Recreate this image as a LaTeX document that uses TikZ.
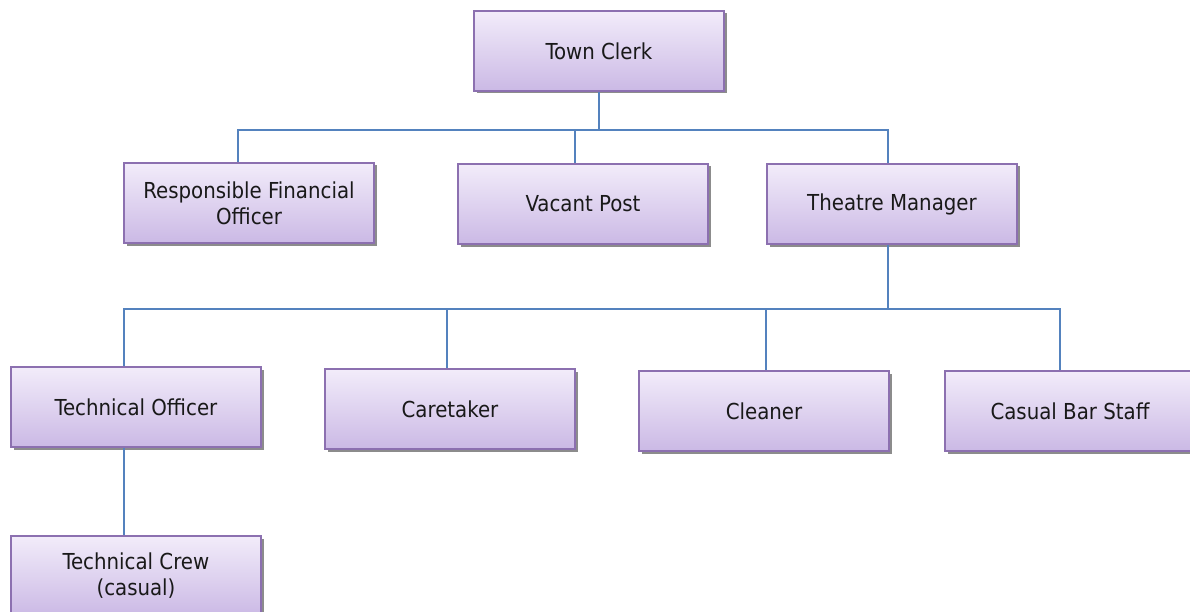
\documentclass[tikz,border=0pt]{standalone}
\usepackage{fontspec}
\setmainfont{DejaVu Sans Condensed}
\usetikzlibrary{shadows}
\definecolor{boxtop}{RGB}{242,236,250}
\definecolor{boxbot}{RGB}{203,185,229}
\definecolor{boxline}{RGB}{140,112,176}
\definecolor{wire}{RGB}{84,130,190}
\begin{document}
\begin{tikzpicture}[x=1pt,y=1pt,
    post/.style={draw=boxline, line width=1.6pt, top color=boxtop, bottom color=boxbot,
      minimum width=250pt, minimum height=80pt, inner sep=0pt, align=center,
      font=\fontsize{22}{26}\selectfont, text=black!90,
      drop shadow={shadow xshift=2.5pt, shadow yshift=-2.5pt, fill=black, opacity=0.45}},
    link/.style={draw=wire, line width=1.3pt}]
      \useasboundingbox (0,0) rectangle (1190,-612);

      \node[post] (clerk) at (599,-51) {Town Clerk};

      \node[post] (rfo) at (249,-203) {Responsible Financial\\Officer};
      \node[post] (vacant) at (583,-204) {Vacant Post};
      \node[post] (tm) at (892,-204) {Theatre Manager};

      \node[post] (techoff) at (136,-407) {Technical Officer};
      \node[post] (care) at (450,-409) {Caretaker};
      \node[post] (clean) at (764,-411) {Cleaner};
      \node[post] (bar) at (1070,-411) {Casual Bar Staff};

      \node[post] (techcrew) at (136,-576) {Technical Crew\\(casual)};

      \coordinate (j1) at (599,-130);
      \coordinate (j2) at (888,-309);

      \draw[link] (clerk.south) -- (j1);
      \draw[link] (j1) -| ([xshift=-11pt]rfo.north);
      \draw[link] (j1) -| ([xshift=-8pt]vacant.north);
      \draw[link] (j1) -| ([xshift=-4pt]tm.north);

      \draw[link] ([xshift=-4pt]tm.south) -- (j2);
      \draw[link] (j2) -| ([xshift=-12pt]techoff.north);
      \draw[link] (j2) -| ([xshift=-3pt]care.north);
      \draw[link] (j2) -| ([xshift=2pt]clean.north);
      \draw[link] (j2) -| ([xshift=-10pt]bar.north);

      \draw[link] ([xshift=-12pt]techoff.south) -- ([xshift=-12pt]techcrew.north);
\end{tikzpicture}
\end{document}
